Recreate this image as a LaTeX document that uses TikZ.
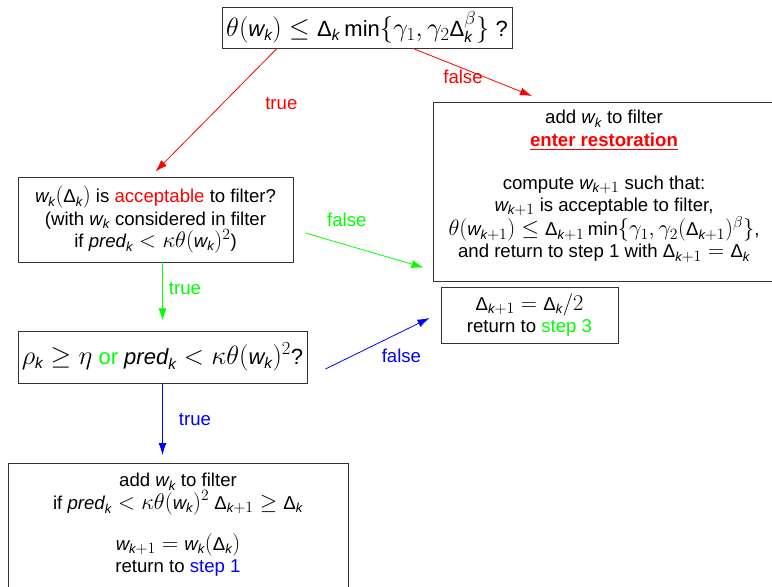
\RequirePackage{fix-cm}
\documentclass[tikz,border=0pt]{standalone}
\usepackage{amsmath}
\usepackage{fontspec}
\setmainfont{Liberation Sans}[Scale=0.83]
\usetikzlibrary{arrows.meta, calc}
\definecolor{colorRojo}{HTML}{FF0000}
\definecolor{colorVerde}{HTML}{00FF00}
\definecolor{colorAzul}{HTML}{0000FF}
\definecolor{colorBorde}{HTML}{333333}
\newcommand{\ik}{\mathit{k}}
\newcommand{\Dlt}{\textup{Δ}}
\newcommand{\wk}{\mathit{w}_{\ik}}
\newcommand{\wkk}{\mathit{w}_{\ik+1}}
\newcommand{\Dk}{\Dlt_{\ik}}
\newcommand{\Dkk}{\Dlt_{\ik+1}}
\newcommand{\predk}{\mathit{pred}_{\ik}}

\begin{document}
\begin{tikzpicture}[x=1bp, y=-1bp, font=\fontsize{22.5}{22.2}\selectfont, >=Latex,
        caja/.style={draw=colorBorde, line width=0.9bp, fill=white, align=center, inner sep=0pt},
        grande/.style={font=\fontsize{26.6}{26}\selectfont},
        etiqueta/.style={inner sep=0pt},
        flecha/.style={-{Latex[length=12bp, width=8bp]}, line width=0.8bp}]
        \useasboundingbox (0,0) rectangle (772,587);
        \clip (0,0) rectangle (772,587);
        % cajas
        \node[caja, grande, minimum width=290bp, minimum height=41bp] (cond) at (367,27.5)
            {$\theta(\wk) \le \Dk \min\{\gamma_1, \gamma_2\Dlt_{\ik}^{\beta}\}$ ?};
        \node[caja, anchor=north, minimum width=342bp, inner ysep=8bp, text depth=15bp] (restore) at (604,102)
            {add $\wk$ to filter\\
             \textcolor{colorRojo}{\textbf{\underline{enter restoration}}}\\[21bp]
             compute $\wkk$ such that:\\
             $\wkk$ is acceptable to filter,\\
             $\theta(\wkk) \le \Dkk \min\{\gamma_1, \gamma_2(\Dkk)^{\beta}\}$,\\
             and return to step 1 with $\Dkk = \Dk$};
        \node[caja, minimum width=275bp, minimum height=85bp] (accept) at (155.5,219.5)
            {$\wk(\Dk)$ is \textcolor{colorRojo}{acceptable} to filter?\\
             (with $\wk$ considered in filter\\
             if $\predk < \kappa\theta(\wk)^2$)};
        \node[caja, minimum width=177bp, minimum height=56bp] (delta) at (529.5,315)
            {$\Dkk = \Dk/2$\\ return to \textcolor{colorVerde}{step 3}};
        \node[caja, grande, minimum width=289bp, minimum height=52bp] (rho) at (162.5,357)
            {$\rho_{\ik} \ge \eta$ \textcolor{colorVerde}{or} $\predk < \kappa\theta(\wk)^2$?};
        \node[caja, anchor=north, minimum width=340bp, inner ysep=10bp, text depth=45bp] (final) at (178,463)
            {add $\wk$ to filter\\
             if $\predk < \kappa\theta(\wk)^2\ \Dkk \ge \Dk$\\[18bp]
             $\wkk = \wk(\Dk)$\\
             return to \textcolor{colorAzul}{step 1}};
        % flechas
        \draw[flecha, colorRojo] ([xshift=-90bp]cond.south) -- node[etiqueta, pos=0.45, xshift=59bp]{true} ([yshift=5bp]accept.north);
        \draw[flecha, colorRojo] ([xshift=46bp]cond.south) -- node[etiqueta, pos=0.42, yshift=-8.5bp]{false} ([shift={(-72bp,6bp)}]restore.north);
        \draw[flecha, colorVerde] (accept.south -| rho.north) -- node[etiqueta, pos=0.45, right=6bp]{true} ($(accept.south -| rho.north)+(0,58)$);
        \draw[flecha, colorVerde] ([shift={(12bp,-13.5bp)}]accept.east) -- node[etiqueta, pos=0.35, yshift=25bp]{false} ([shift={(-17bp,19bp)}]delta.north west);
        \draw[flecha, colorAzul] (rho.south) -- node[etiqueta, pos=0.5, right=16bp]{true} ($(rho.south |- final.north)+(0,-8)$);
        \draw[flecha, colorAzul] ([shift={(18bp,-12bp)}]rho.east) -- node[etiqueta, pos=0.73, yshift=-24.5bp]{false} ([shift={(-11bp,-3bp)}]delta.west);
    \end{tikzpicture}
\end{document}
